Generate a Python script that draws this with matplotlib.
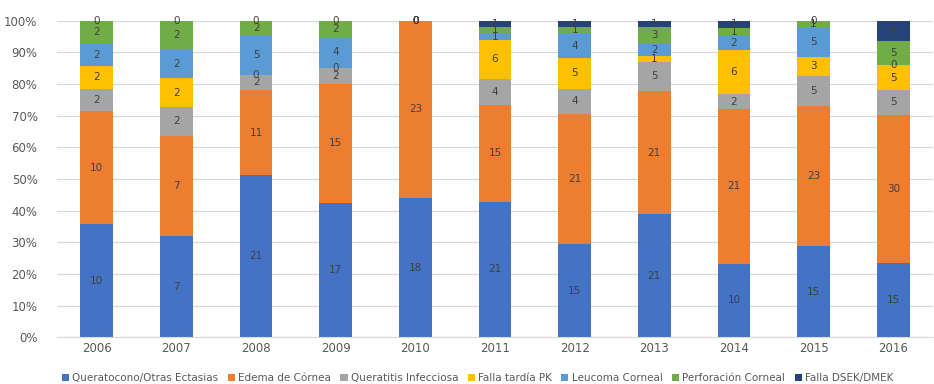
import matplotlib.pyplot as plt
import numpy as np
from matplotlib.ticker import PercentFormatter

years = ['2006', '2007', '2008', '2009', '2010', '2011', '2012', '2013', '2014', '2015', '2016']

causes = ['Queratocono/Otras Ectasias', 'Edema de Córnea', 'Queratitis Infecciosa',
          'Falla tardía PK', 'Leucoma Corneal', 'Perforación Corneal', 'Falla DSEK/DMEK']

queratocono = [10, 7, 21, 17, 18, 21, 15, 21, 10, 15, 15]
edema = [10, 7, 11, 15, 23, 15, 21, 21, 21, 23, 30]
queratitis = [2, 2, 2, 2, 0, 4, 4, 5, 2, 5, 5]
falla_pk = [2, 2, 0, 0, 0, 6, 5, 1, 6, 3, 5]
leucoma = [2, 2, 5, 4, 0, 1, 4, 2, 2, 5, 0]
perforacion = [2, 2, 2, 2, 0, 1, 1, 3, 1, 1, 5]
falla_dsek = [0, 0, 0, 0, 0, 1, 1, 1, 1, 0, 4]

colors = ['#4472C4', '#ED7D31', '#A5A5A5', '#FFC000', '#5B9BD5', '#70AD47', '#264478']

counts = np.array([queratocono, edema, queratitis, falla_pk, leucoma, perforacion, falla_dsek], dtype=float)
pct = counts / counts.sum(axis=0) * 100

fig = plt.figure(figsize=(9.34, 3.84), dpi=100)
ax = fig.add_axes([0.061, 0.122, 0.938, 0.824])

x = np.arange(len(years))
bottom = np.zeros(len(years))
for i, name in enumerate(causes):
    ax.bar(x, pct[i], width=0.41, bottom=bottom, color=colors[i], label=name, zorder=2)
    for j in range(len(years)):
        ax.text(x[j], bottom[j] + pct[i][j] / 2, f'{int(counts[i][j])}',
                ha='center', va='center', fontsize=7.5, color='#404040', zorder=3)
    bottom += pct[i]

ax.set_xlim(-0.5, len(years) - 0.5)
ax.set_ylim(0, 100)
ax.set_yticks(np.arange(0, 101, 10))
ax.yaxis.set_major_formatter(PercentFormatter(decimals=0))
ax.set_xticks(x)
ax.set_xticklabels(years)
ax.tick_params(length=0, labelsize=8.5, labelcolor='#595959')
ax.tick_params(axis='y', pad=14)
ax.grid(axis='y', color='#D9D9D9', linewidth=0.9, zorder=0)
for s in ['top', 'right', 'left']:
    ax.spines[s].set_visible(False)
ax.spines['bottom'].set_color('#D9D9D9')

ax.legend(loc='upper center', bbox_to_anchor=(0.48, -0.085), ncol=7, frameon=False,
          fontsize=7.5, handlelength=0.7, handleheight=0.7, handletextpad=0.3,
          columnspacing=0.9, labelcolor='#595959')

fig.savefig('out.png', dpi=100)
